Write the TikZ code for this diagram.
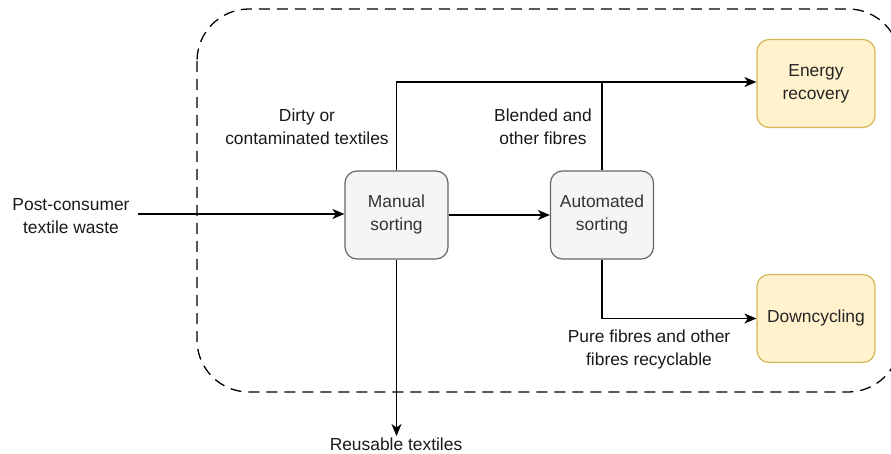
\documentclass[tikz,border=0pt]{standalone}
\usepackage{fontspec}
\setmainfont{Liberation Sans}
\usetikzlibrary{arrows.meta}
\definecolor{greyfill}{HTML}{F5F5F5}
\definecolor{greyline}{HTML}{666666}
\definecolor{greytext}{HTML}{333333}
\definecolor{yellowfill}{HTML}{FFF2CC}
\definecolor{yellowline}{HTML}{D6B656}
\begin{document}
\begin{tikzpicture}[x=1pt,y=-1pt,
  every node/.style={font=\fontsize{17.4}{23}\selectfont, align=center},
  process/.style={draw=greyline, fill=greyfill, text=greytext, line width=1.2pt,
    rounded corners=12pt, minimum width=103pt, minimum height=88pt, inner sep=0pt},
  outcome/.style={draw=yellowline, fill=yellowfill, text=black!85, line width=1.2pt,
    rounded corners=12pt, minimum width=118pt, minimum height=88pt, inner sep=0pt},
  label/.style={text=black!90, inner sep=0pt},
  flow/.style={line width=1.4pt, -{Stealth[length=12pt,width=10pt,inset=3.5pt]}},
  plain/.style={line width=1.4pt},
  boundary/.style={line width=1.3pt, dash pattern=on 11pt off 7pt, rounded corners=52pt}]
\useasboundingbox (0,0) rectangle (891,454);
\begin{scope}
\clip (0,0) rectangle (891,454);
% system boundary, running off the right edge
\draw[boundary] (197,9) rectangle (900,392);
\end{scope}

% processing steps
\node[process] (manual) at (396.5,215) {Manual\\sorting};
\node[process] (auto) at (602,215) {Automated\\sorting};
\node[outcome] (energy) at (816,83.5) {Energy\\recovery};
\node[outcome] (down) at (816,318.5) {Downcycling};

% inputs and outputs
\node[label] (input) at (71,216) {Post-consumer\\textile waste};
\coordinate (inputstart) at (138,214);
\node[label, anchor=base] (reuse) at (396,450) {Reusable textiles};
\coordinate (reusetip) at (396.5,436);

% flow labels
\node[label] (dirty) at (307,127) {Dirty or\\contaminated textiles};
\node[label] (blended) at (543,127) {Blended and\\other fibres};
\node[label] (pure) at (649,349) {Pure fibres and other\\fibres recyclable};

% connectors
\draw[flow] (inputstart) -- (inputstart -| manual.west);
\draw[flow] (manual.east) -- (auto.west);
\draw[flow] (manual.north) |- (energy.west |- 0,82);
\draw[plain] (auto.north) -- (auto.north |- 0,82);
\draw[flow] (auto.south) |- (down.west);
\draw[flow] (manual.south) -- (reusetip);
\end{tikzpicture}
\end{document}
